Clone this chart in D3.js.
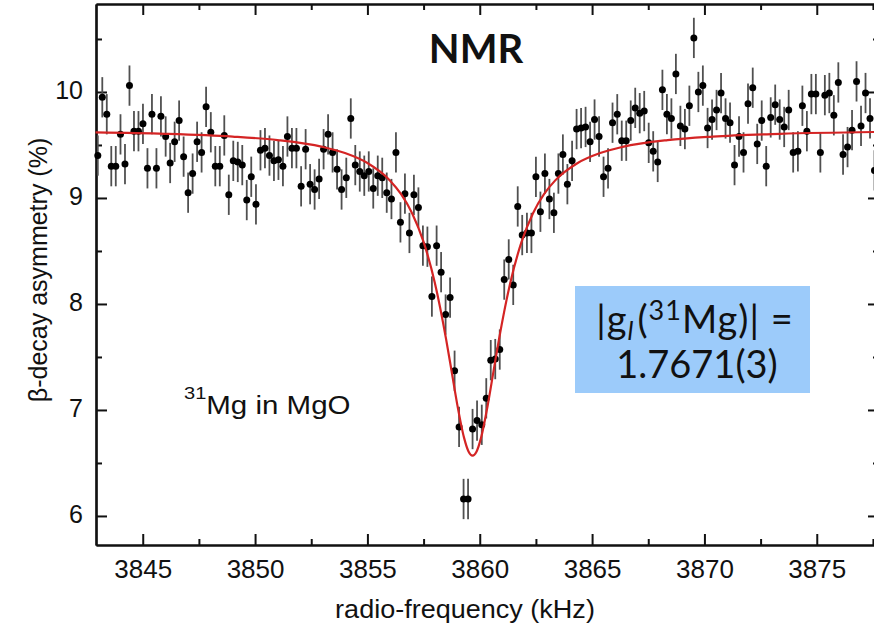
<!DOCTYPE html>
<html>
<head>
<meta charset="utf-8">
<title>NMR 31Mg in MgO</title>
<script src="https://d3js.org/d3.v7.min.js"></script>
<style>
  body { margin: 0; background: #fff; }
  svg text { font-family: "Liberation Sans", Arial, sans-serif; fill: #111; }
  .axis path, .axis line { stroke: #111; }
</style>
</head>
<body>
<div id="chart"></div>
<script>
// measured points (radio-frequency in kHz, asymmetry in %)
var freq = [
  3843.00, 3843.20, 3843.40, 3843.60, 3843.80, 3844.01, 3844.21, 3844.41, 3844.61, 3844.81,
  3845.01, 3845.21, 3845.41, 3845.61, 3845.81, 3846.02, 3846.22, 3846.42, 3846.62, 3846.82,
  3847.02, 3847.22, 3847.42, 3847.62, 3847.82, 3848.03, 3848.23, 3848.43, 3848.63, 3848.83,
  3849.03, 3849.23, 3849.43, 3849.63, 3849.83, 3850.04, 3850.24, 3850.44, 3850.64, 3850.84,
  3851.04, 3851.24, 3851.44, 3851.64, 3851.84, 3852.05, 3852.25, 3852.45, 3852.65, 3852.85,
  3853.05, 3853.25, 3853.45, 3853.65, 3853.85, 3854.06, 3854.26, 3854.46, 3854.66, 3854.86,
  3855.06, 3855.26, 3855.46, 3855.66, 3855.86, 3856.07, 3856.27, 3856.47, 3856.67, 3856.87,
  3857.07, 3857.27, 3857.47, 3857.67, 3857.87, 3858.08, 3858.28, 3858.48, 3858.68, 3858.88,
  3859.08, 3859.28, 3859.48, 3859.68, 3859.88, 3860.09, 3860.29, 3860.49, 3860.69, 3860.89,
  3861.09, 3861.29, 3861.49, 3861.69, 3861.89, 3862.10, 3862.30, 3862.50, 3862.70, 3862.90,
  3863.10, 3863.30, 3863.50, 3863.70, 3863.90, 3864.11, 3864.31, 3864.51, 3864.71, 3864.91,
  3865.11, 3865.31, 3865.51, 3865.71, 3865.91, 3866.12, 3866.32, 3866.52, 3866.72, 3866.92,
  3867.12, 3867.32, 3867.52, 3867.72, 3867.92, 3868.13, 3868.33, 3868.53, 3868.73, 3868.93,
  3869.13, 3869.33, 3869.53, 3869.73, 3869.93, 3870.14, 3870.34, 3870.54, 3870.74, 3870.94,
  3871.14, 3871.34, 3871.54, 3871.74, 3871.94, 3872.15, 3872.35, 3872.55, 3872.75, 3872.95,
  3873.15, 3873.35, 3873.55, 3873.75, 3873.95, 3874.16, 3874.36, 3874.56, 3874.76, 3874.96,
  3875.16, 3875.36, 3875.56, 3875.76, 3875.96, 3876.17, 3876.37, 3876.57, 3876.77, 3876.97,
  3877.17, 3877.37, 3877.57
];
var asym = [
  9.40, 9.95, 9.79, 9.30, 9.30, 9.60, 9.32, 10.06, 9.63, 9.63,
  9.70, 9.28, 9.79, 9.28, 9.77, 9.58, 9.33, 9.53, 9.73, 9.39,
  9.05, 9.23, 9.53, 9.43, 9.86, 9.62, 9.30, 9.30, 9.59, 9.03,
  9.35, 9.34, 9.31, 8.98, 9.20, 8.94, 9.45, 9.47, 9.40, 9.35,
  9.36, 9.30, 9.58, 9.47, 9.47, 9.11, 9.46, 9.13, 9.08, 9.18,
  9.46, 9.60, 9.43, 9.27, 9.08, 9.19, 9.75, 9.31, 9.25, 9.21,
  9.25, 9.09, 9.21, 9.19, 9.05, 8.99, 9.43, 8.77, 9.04, 8.67,
  9.03, 8.91, 8.55, 8.54, 8.07, 8.55, 8.30, 7.90, 8.06, 7.37,
  6.84, 6.16, 6.16, 6.82, 6.90, 6.86, 7.11, 7.47, 7.48, 7.57,
  8.23, 8.42, 8.18, 8.92, 8.65, 8.67, 8.67, 9.20, 8.87, 9.23,
  8.99, 8.86, 9.23, 9.41, 9.13, 9.35, 9.65, 9.66, 9.67, 9.53,
  9.74, 9.58, 9.20, 9.28, 9.71, 9.79, 9.54, 9.54, 9.73, 9.85,
  9.80, 9.82, 9.52, 9.44, 9.34, 10.02, 9.79, 9.75, 10.17, 9.68,
  9.65, 9.87, 10.51, 10.00, 10.06, 9.66, 9.74, 9.83, 9.99, 9.75,
  9.71, 9.31, 9.58, 9.43, 9.89, 10.04, 9.51, 9.73, 9.30, 9.76,
  9.88, 9.74, 9.67, 9.83, 9.43, 9.44, 9.87, 9.63, 9.98, 9.98,
  9.43, 9.97, 9.99, 9.78, 10.09, 9.41, 9.48, 9.64, 10.10, 9.68,
  9.99, 9.75, 9.26
];
var asymErr = 0.19;

// fitted resonance curve
var fitFreq = [3842.9, 3846.0, 3849.0, 3851.0, 3853.0, 3854.0, 3855.0, 3856.0, 3856.5, 3857.0,
  3857.5, 3858.0, 3858.5, 3858.75, 3859.0, 3859.3, 3859.5, 3859.68, 3859.86, 3860.06,
  3860.36, 3860.61, 3860.86, 3861.36, 3861.86, 3862.36, 3862.86, 3863.36, 3864.36, 3865.36,
  3866.36, 3868.36, 3870.36, 3873.36, 3877.8];
var fitAsym = [9.618, 9.605, 9.579, 9.546, 9.482, 9.424, 9.330, 9.166, 9.036, 8.852,
  8.585, 8.201, 7.671, 7.362, 7.050, 6.739, 6.609, 6.570, 6.609, 6.739,
  7.050, 7.362, 7.671, 8.201, 8.585, 8.852, 9.036, 9.166, 9.330, 9.424,
  9.482, 9.546, 9.579, 9.605, 9.623];

var xTicks = [3845, 3850, 3855, 3860, 3865, 3870, 3875];
var xMinor = [3847.5, 3852.5, 3857.5, 3862.5, 3867.5, 3872.5, 3877.5];
var yTicks = [6, 7, 8, 9, 10];
var yMinor = [6.5, 7.5, 8.5, 9.5, 10.5];

var W = 874, H = 625;
var plotL = 96, plotR = 879, plotT = 4, plotB = 545;

var svg = d3.select("#chart").append("svg")
  .attr("width", W)
  .attr("height", H);

var x = d3.scaleLinear().domain([3842.92, 3877.77]).range([plotL, plotR]);
var y = d3.scaleLinear().domain([5.726, 10.83]).range([plotB, plotT]);

// axes, ticks pointing inwards on all four sides
function styleAxis(g) {
  g.attr("class", "axis");
  g.select(".domain").attr("stroke-width", 2.2);
  g.selectAll(".tick line").attr("stroke-width", 2);
  g.selectAll(".tick text").style("font-size", "26px").attr("fill", "#111");
}

svg.append("g")
  .attr("transform", "translate(0," + plotB + ")")
  .call(d3.axisBottom(x).tickValues(xTicks).tickFormat(d3.format("d"))
    .tickSize(-11).tickSizeOuter(0).tickPadding(15))
  .call(styleAxis);
svg.append("g")
  .attr("transform", "translate(0," + plotB + ")")
  .call(d3.axisBottom(x).tickValues(xMinor).tickFormat("").tickSize(-6).tickSizeOuter(0))
  .call(styleAxis);
svg.append("g")
  .attr("transform", "translate(0," + plotT + ")")
  .call(d3.axisTop(x).tickValues(xTicks).tickFormat("").tickSize(-11).tickSizeOuter(0))
  .call(styleAxis);
svg.append("g")
  .attr("transform", "translate(0," + plotT + ")")
  .call(d3.axisTop(x).tickValues(xMinor).tickFormat("").tickSize(-6).tickSizeOuter(0))
  .call(styleAxis);

svg.append("g")
  .attr("transform", "translate(" + plotL + ",0)")
  .call(d3.axisLeft(y).tickValues(yTicks).tickFormat(d3.format("d"))
    .tickSize(-11).tickSizeOuter(0).tickPadding(13))
  .call(styleAxis)
  .call(function(g) { g.selectAll(".tick text").attr("dy", "0.26em").style("font-size", "25px"); });
svg.append("g")
  .attr("transform", "translate(" + plotL + ",0)")
  .call(d3.axisLeft(y).tickValues(yMinor).tickFormat("").tickSize(-6).tickSizeOuter(0))
  .call(styleAxis);
svg.append("g")
  .attr("transform", "translate(" + plotR + ",0)")
  .call(d3.axisRight(y).tickValues(yTicks).tickFormat("").tickSize(-11).tickSizeOuter(0))
  .call(styleAxis);
svg.append("g")
  .attr("transform", "translate(" + plotR + ",0)")
  .call(d3.axisRight(y).tickValues(yMinor).tickFormat("").tickSize(-6).tickSizeOuter(0))
  .call(styleAxis);

// axis titles
svg.append("text")
  .attr("transform", "translate(465,618) scale(1.06,1)")
  .attr("text-anchor", "middle")
  .style("font-size", "25.5px")
  .text("radio-frequency (kHz)");

svg.append("text")
  .attr("transform", "translate(47,270) rotate(-90)")
  .attr("text-anchor", "middle")
  .style("font-size", "25px")
  .text("\u03b2-decay asymmetry (%)");

// data
var pts = freq.map(function(f, i) { return {f: f, a: asym[i]}; });

svg.append("g").selectAll("line")
  .data(pts)
  .enter()
  .append("line")
  .attr("x1", function(d) { return x(d.f); })
  .attr("x2", function(d) { return x(d.f); })
  .attr("y1", function(d) { return y(d.a - asymErr); })
  .attr("y2", function(d) { return y(d.a + asymErr); })
  .attr("stroke", "#505050")
  .attr("stroke-width", 1.8);

svg.append("g").selectAll("circle")
  .data(pts)
  .enter()
  .append("circle")
  .attr("cx", function(d) { return x(d.f); })
  .attr("cy", function(d) { return y(d.a); })
  .attr("r", 3.5)
  .attr("fill", "#000");

var fitLine = d3.line()
  .x(function(d) { return x(d[0]); })
  .y(function(d) { return y(d[1]); })
  .curve(d3.curveMonotoneX);

svg.append("path")
  .datum(fitFreq.map(function(f, i) { return [f, fitAsym[i]]; }))
  .attr("d", fitLine)
  .attr("fill", "none")
  .attr("stroke", "#d42424")
  .attr("stroke-width", 2.2);

// labels
svg.append("text")
  .attr("x", 476)
  .attr("y", 63)
  .attr("text-anchor", "middle")
  .style("font-family", "Lato, 'Open Sans', sans-serif")
  .style("font-weight", "bold")
  .style("font-size", "40px")
  .attr("fill", "#000")
  .text("NMR");

var iso = svg.append("text")
  .attr("transform", "translate(184,414) scale(1.18,1)")
  .style("font-size", "25px");
iso.append("tspan").attr("dy", -15).style("font-size", "17px").text("31");
iso.append("tspan").attr("dy", 15).text("Mg in MgO");

svg.append("rect")
  .attr("x", 575)
  .attr("y", 286)
  .attr("width", 235)
  .attr("height", 107)
  .attr("fill", "#9ccbfa");

var gl = svg.append("text")
  .attr("x", 695)
  .attr("y", 333)
  .attr("text-anchor", "middle")
  .style("font-family", "Lato, 'Open Sans', sans-serif")
  .style("font-size", "38px")
  .style("letter-spacing", "1px")
  .attr("fill", "#000");
gl.append("tspan").text("|g");
gl.append("tspan").attr("dy", 7).style("font-size", "26px").style("font-style", "italic").text("l");
gl.append("tspan").attr("dy", -7).attr("dx", 3).text("(");
gl.append("tspan").attr("dy", -13).style("font-size", "27px").text("31");
gl.append("tspan").attr("dy", 13).text("Mg)| =");

svg.append("text")
  .attr("x", 697)
  .attr("y", 378)
  .attr("text-anchor", "middle")
  .style("font-family", "Lato, 'Open Sans', sans-serif")
  .style("font-size", "38px")
  .attr("fill", "#000")
  .text("1.7671(3)");
</script>
</body>
</html>
